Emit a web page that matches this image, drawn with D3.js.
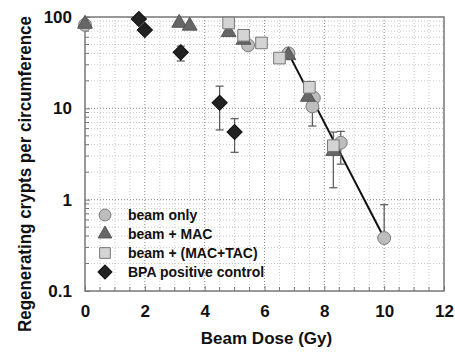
<!DOCTYPE html>
<html>
<head>
<meta charset="utf-8">
<script src="https://cdn.jsdelivr.net/npm/d3@7"></script>
<style>
  body { margin: 0; background: #fff; }
  text { font-family: Arial, "Liberation Sans", sans-serif; font-weight: bold; fill: #111; }
</style>
</head>
<body>
<div id="main"></div>
<script>
// data
const beamX  = [0, 5.45, 6.8, 7.65, 7.6, 8.55, 10];
const beamY  = [82, 49, 40, 13, 10.5, 4.2, 0.38];
const beamLo = [null, null, null, null, 6.4, 2.45, null];
const beamHi = [null, null, null, null, null, 5.6, 0.88];

const macX  = [0, 3.15, 3.5, 4.8, 5.3, 6.8, 7.45, 8.3];
const macY  = [84, 86, 80, 68, 56, 38, 13.3, 3.4];
const macLo = [null, null, null, null, null, null, null, 1.35];
const macHi = [null, null, null, null, null, null, null, 5.5];

const tacX  = [4.8, 5.3, 5.9, 6.5, 7.5, 8.3];
const tacY  = [86, 63, 52, 35.5, 17, 3.9];
const tacLo = [null, 52, null, 33, 15, null];
const tacHi = [null, null, null, null, null, null];

const bpaX  = [1.8, 2.0, 3.2, 4.5, 5.0];
const bpaY  = [95, 72, 41, 11.5, 5.5];
const bpaLo = [null, null, 33, 5.8, 3.3];
const bpaHi = [null, null, 48, 17.5, 7.7];

const fitX = [6.8, 10];
const fitY = [40, 0.38];

const xTicks = [0, 2, 4, 6, 8, 10, 12];
const yTicks = [0.1, 1, 10, 100];
const legendLabels = ["beam only", "beam + MAC", "beam + (MAC+TAC)", "BPA positive control"];

const margin = {left: 85, top: 17, right: 11, bottom: 67};
const W = 455, H = 358;
const w = W - margin.left - margin.right,
      h = H - margin.top - margin.bottom;

const svg = d3.select("#main").append("svg")
    .attr("width", W).attr("height", H);
const g = svg.append("g")
    .attr("transform", "translate(" + margin.left + "," + margin.top + ")");

const xScale = d3.scaleLinear().domain([0, 12]).range([0, w]);
const yScale = d3.scaleLog().domain([0.1, 100]).range([h, 0]);

/* grid */
const minorX = d3.range(0.5, 12, 0.5).filter(v => v % 2 !== 0);
const minorY = [];
[0.1, 1, 10].forEach(d => { for (let k = 2; k <= 9; k++) minorY.push(d * k); });

g.selectAll(".gxm").data(minorX).enter().append("line")
    .attr("x1", d => xScale(d)).attr("x2", d => xScale(d))
    .attr("y1", 0).attr("y2", h)
    .attr("stroke", "#c8c8c8").attr("stroke-dasharray", "1,2");
g.selectAll(".gym").data(minorY).enter().append("line")
    .attr("y1", d => yScale(d)).attr("y2", d => yScale(d))
    .attr("x1", 0).attr("x2", w)
    .attr("stroke", "#c8c8c8").attr("stroke-dasharray", "1,2");
g.selectAll(".gx").data(xTicks.slice(1, -1)).enter().append("line")
    .attr("x1", d => xScale(d)).attr("x2", d => xScale(d))
    .attr("y1", 0).attr("y2", h)
    .attr("stroke", "#888").attr("stroke-dasharray", "1,2");
g.selectAll(".gy").data(yTicks.slice(1, -1)).enter().append("line")
    .attr("y1", d => yScale(d)).attr("y2", d => yScale(d))
    .attr("x1", 0).attr("x2", w)
    .attr("stroke", "#888").attr("stroke-dasharray", "1,2");

/* axes */
const xAxis = d3.axisBottom(xScale).tickValues(xTicks).tickFormat(d3.format("d"))
    .tickSizeInner(-5).tickSizeOuter(0).tickPadding(14);
const yAxis = d3.axisLeft(yScale).tickValues(yTicks).tickFormat(d => d)
    .tickSizeInner(-5).tickSizeOuter(0).tickPadding(13);

const gx = g.append("g").attr("transform", "translate(0," + h + ")").call(xAxis);
const gy = g.append("g").call(yAxis);
[gx, gy].forEach(a => {
    a.select(".domain").remove();
    a.selectAll("line").attr("stroke", "#777");
    a.selectAll("text").style("font-size", "17px").style("font-weight", "bold").attr("fill", "#111");
});
gx.selectAll(".mt").data(minorX).enter().append("line")
    .attr("x1", d => xScale(d)).attr("x2", d => xScale(d))
    .attr("y1", 0).attr("y2", -4).attr("stroke", "#777");
gy.selectAll(".mt").data(minorY).enter().append("line")
    .attr("y1", d => yScale(d)).attr("y2", d => yScale(d))
    .attr("x1", 0).attr("x2", 4).attr("stroke", "#777");

g.append("rect").attr("width", w).attr("height", h)
    .attr("fill", "none").attr("stroke", "#777").attr("stroke-width", 1.5);

/* fit line */
g.append("path")
    .datum(fitX.map((x, i) => [x, fitY[i]]))
    .attr("d", d3.line().x(d => xScale(d[0])).y(d => yScale(d[1])))
    .attr("stroke", "#111").attr("stroke-width", 2).attr("fill", "none");

/* series */
const series = [
    {x: beamX, y: beamY, lo: beamLo, hi: beamHi, sym: d3.symbolCircle, size: 130, rot: 0, fill: "#bdbdbd", stroke: "#7a7a7a"},
    {x: macX, y: macY, lo: macLo, hi: macHi, sym: d3.symbolTriangle, size: 95, rot: 0, fill: "#666", stroke: "#555"},
    {x: tacX, y: tacY, lo: tacLo, hi: tacHi, sym: d3.symbolSquare, size: 135, rot: 0, fill: "#d4d4d4", stroke: "#777"},
    {x: bpaX, y: bpaY, lo: bpaLo, hi: bpaHi, sym: d3.symbolSquare, size: 115, rot: 45, fill: "#222", stroke: "#111"}
];

series.forEach(s => {
    const pts = s.x.map((x, i) => ({x: x, y: s.y[i], lo: s.lo[i], hi: s.hi[i]}));
    pts.forEach(p => {
        [p.lo, p.hi].forEach(e => {
            if (e === null) return;
            g.append("line")
                .attr("x1", xScale(p.x)).attr("x2", xScale(p.x))
                .attr("y1", yScale(p.y)).attr("y2", yScale(e))
                .attr("stroke", "#555").attr("stroke-width", 1.2);
            g.append("line")
                .attr("x1", xScale(p.x) - 4).attr("x2", xScale(p.x) + 4)
                .attr("y1", yScale(e)).attr("y2", yScale(e))
                .attr("stroke", "#555").attr("stroke-width", 1.2);
        });
    });
});

series.forEach(s => {
    g.selectAll(null)
        .data(s.x.map((x, i) => [x, s.y[i]]))
        .enter().append("path")
        .attr("d", d3.symbol().type(s.sym).size(s.size))
        .attr("transform", d => "translate(" + xScale(d[0]) + "," + yScale(d[1]) + ") rotate(" + s.rot + ")")
        .attr("fill", s.fill).attr("stroke", s.stroke).attr("stroke-width", 1);
});

/* legend */
const leg = g.append("g").attr("transform", "translate(20,198)");
legendLabels.forEach((lab, i) => {
    const s = series[i];
    leg.append("path")
        .attr("d", d3.symbol().type(s.sym).size(s.size * 0.85))
        .attr("transform", "translate(0," + i * 19 + ") rotate(" + s.rot + ")")
        .attr("fill", s.fill).attr("stroke", s.stroke);
    leg.append("text")
        .attr("x", 23).attr("y", i * 19).attr("dy", "0.35em")
        .style("font-size", "14px")
        .text(lab);
});

/* titles */
svg.append("text")
    .attr("x", margin.left + w / 2 + 2).attr("y", 344)
    .attr("text-anchor", "middle")
    .style("font-size", "17px")
    .text("Beam Dose (Gy)");
svg.append("text")
    .attr("transform", "translate(31,174) rotate(-90)")
    .attr("text-anchor", "middle")
    .attr("textLength", 316)
    .attr("lengthAdjust", "spacingAndGlyphs")
    .style("font-size", "17.5px")
    .text("Regenerating crypts per circumference");
</script>
</body>
</html>
